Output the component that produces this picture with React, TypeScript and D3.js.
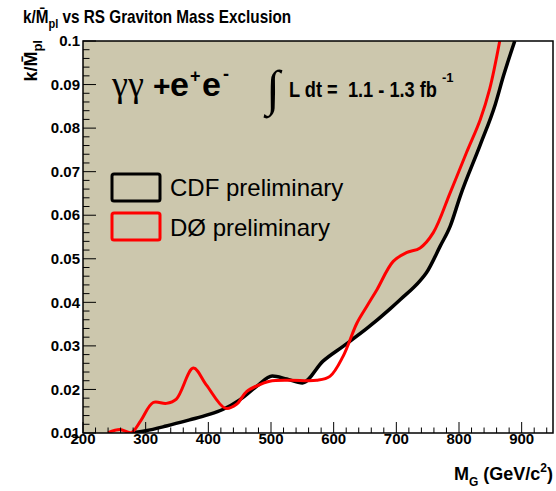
import React from 'react';
import * as d3 from 'd3';

// CDF preliminary limit (black)
const cdfMass = [278, 300, 333, 370, 400, 423, 450, 477, 502, 525, 550, 583, 615, 653, 690, 706, 738, 748, 770, 786, 802, 834, 858, 871, 889];
const cdfK = [0.0100, 0.0105, 0.0116, 0.0130, 0.0142, 0.0154, 0.0176, 0.0207, 0.0231, 0.0224, 0.0215, 0.0265, 0.0299, 0.0340, 0.0385, 0.0406, 0.0450, 0.0468, 0.0529, 0.0575, 0.0644, 0.0762, 0.0855, 0.0920, 0.1000];

// DØ preliminary limit (red)
const d0Mass = [240, 259, 277, 292, 312, 333, 349, 376, 397, 427, 445, 461, 487, 498, 530, 573, 594, 615, 637, 653, 669, 695, 716, 738, 759, 786, 812, 834, 849, 865];
const d0K = [0.0101, 0.0108, 0.0101, 0.0128, 0.0170, 0.0168, 0.0178, 0.0249, 0.0210, 0.0157, 0.0166, 0.0195, 0.0214, 0.0219, 0.0221, 0.0221, 0.0230, 0.0276, 0.0352, 0.0391, 0.0429, 0.0494, 0.0514, 0.0525, 0.0560, 0.0652, 0.0744, 0.0820, 0.0890, 0.1000];

const xTickLabels = ['200', '300', '400', '500', '600', '700', '800', '900'];
const yTickLabels = ['0.01', '0.02', '0.03', '0.04', '0.05', '0.06', '0.07', '0.08', '0.09', '0.1'];

const W = 556;
const H = 491;
const frame = { left: 83, top: 41, right: 553, bottom: 433 };
const fillColor = '#ccc7ad';
const sans = "'Liberation Sans', Arial, sans-serif";
const serif = "'Liberation Serif', 'Times New Roman', serif";

const App: React.FC = () => {
  const x = d3.scaleLinear().domain([200, 950]).range([frame.left, frame.right]);
  const y = d3.scaleLinear().domain([0.01, 0.1]).range([frame.bottom, frame.top]);

  const cdf = cdfMass.map((m, i) => [m, cdfK[i]] as [number, number]);
  const d0 = d0Mass.map((m, i) => [m, d0K[i]] as [number, number]);

  const line = d3.line<[number, number]>()
    .x(d => x(d[0]))
    .y(d => y(d[1]))
    .curve(d3.curveMonotoneX);
  const smooth = d3.line<[number, number]>()
    .x(d => x(d[0]))
    .y(d => y(d[1]))
    .curve(d3.curveCatmullRom.alpha(0.5));

  const cdfPath = line(cdf) || '';
  const fillPath = cdfPath + `L${x(200)},${y(0.1)}L${x(200)},${y(0.01)}Z`;

  const xMinor = d3.range(200, 951, 20);
  const yMinor = d3.range(0.01, 0.1001, 0.002);

  return (
    <svg width={W} height={H} style={{ position: 'absolute', left: 0, top: 0, background: '#fff' }}>
      <defs>
        <clipPath id="plot">
          <rect x={frame.left} y={frame.top} width={frame.right - frame.left} height={frame.bottom - frame.top} />
        </clipPath>
      </defs>

      {/* title */}
      <g transform="translate(23,23) scale(0.85,1)" fontFamily={sans} fontWeight="bold" fontSize={18}>
        <text x={0} y={0}>
          k/M{'\u0304'}
          <tspan fontSize={13} dy={5}>pl</tspan>
          <tspan dy={-5}>{' vs RS Graviton Mass Exclusion'}</tspan>
        </text>
      </g>

      <g clipPath="url(#plot)">
        <path d={fillPath} fill={fillColor} />
        <path d={cdfPath} fill="none" stroke="#000" strokeWidth={3.5} strokeLinejoin="round" />
        <path d={smooth(d0) || ''} fill="none" stroke="#ff0000" strokeWidth={3} strokeLinejoin="round" />
      </g>

      {/* frame */}
      <rect x={frame.left} y={frame.top} width={frame.right - frame.left} height={frame.bottom - frame.top}
        fill="none" stroke="#000" strokeWidth={1.5} />

      {/* ticks */}
      {xMinor.map(v => (
        <line key={'xm' + v} x1={x(v)} x2={x(v)} y1={frame.bottom} y2={frame.bottom - (v % 100 === 0 ? 11 : 5.5)}
          stroke="#000" strokeWidth={1} />
      ))}
      {yMinor.map((v, i) => (
        <line key={'ym' + i} x1={frame.left} x2={frame.left + (i % 5 === 0 ? 13 : 6.5)} y1={y(v)} y2={y(v)}
          stroke="#000" strokeWidth={1} />
      ))}

      {/* tick labels */}
      <g fontFamily={sans} fontWeight="bold" fontSize={15}>
        {xTickLabels.map(t => (
          <text key={'xl' + t} x={x(+t)} y={frame.bottom + 11} textAnchor="middle">{t}</text>
        ))}
        {yTickLabels.map(t => (
          <text key={'yl' + t} x={frame.left - 3} y={y(+t)} dy="0.35em" textAnchor="end">{t}</text>
        ))}
      </g>

      {/* axis titles */}
      <g transform="translate(37,40) rotate(-90)" fontFamily={sans} fontWeight="bold" fontSize={18}>
        <text x={0} y={0} textAnchor="end">
          k/M{'\u0304'}
          <tspan fontSize={13} dy={5}>pl</tspan>
        </text>
      </g>
      <text x={frame.right} y={480} textAnchor="end" fontFamily={sans} fontWeight="bold" fontSize={18}>
        M<tspan fontSize={12} dy={6}>G</tspan>
        <tspan dy={-6}>{' (GeV/c'}</tspan>
        <tspan fontSize={12} dy={-8}>2</tspan>
        <tspan dy={8}>)</tspan>
      </text>

      {/* process label */}
      <text x={112} y={96} fontFamily={serif} fontSize={36}>γγ</text>
      <g fontFamily={sans} fontWeight="bold">
        <text x={153} y={96} fontSize={30}>+</text>
        <text x={170} y={96} fontSize={34}>e</text>
        <text x={190} y={82} fontSize={18}>+</text>
        <text x={202} y={96} fontSize={34}>e</text>
        <text x={223} y={80} fontSize={18}>-</text>
      </g>

      {/* luminosity */}
      <text x={266} y={105} fontFamily={serif} fontSize={50}>∫</text>
      <g fontFamily={sans} fontWeight="bold">
        <text x={289} y={97} fontSize={22} textLength={148} lengthAdjust="spacingAndGlyphs"
          style={{ whiteSpace: 'pre' }}>{'L dt =  1.1 - 1.3 fb'}</text>
        <text x={442} y={82} fontSize={13}>-1</text>
      </g>

      {/* legend */}
      <rect x={112} y={174} width={48} height={27} rx={2} fill={fillColor} stroke="#000" strokeWidth={3} />
      <rect x={112} y={213} width={48} height={27} rx={2} fill={fillColor} stroke="#ff0000" strokeWidth={3} />
      <g fontFamily={sans} fontSize={24}>
        <text x={170} y={196}>CDF preliminary</text>
        <text x={170} y={236}>DØ preliminary</text>
      </g>
    </svg>
  );
};

export default App;
